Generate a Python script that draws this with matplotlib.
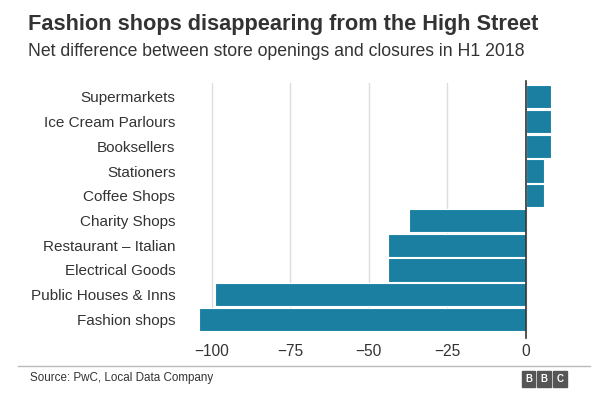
import matplotlib.pyplot as plt
from matplotlib.patches import Rectangle

plt.rcParams['font.family'] = ['Liberation Sans', 'DejaVu Sans']

categories = ['Supermarkets', 'Ice Cream Parlours', 'Booksellers', 'Stationers',
              'Coffee Shops', 'Charity Shops', 'Restaurant \u2013 Italian',
              'Electrical Goods', 'Public Houses & Inns', 'Fashion shops']
values = [8, 8, 8, 6, 6, -37, -44, -44, -99, -104]
ticks = [-100, -75, -50, -25, 0]
tick_labels = ['\u2212100', '\u221275', '\u221250', '\u221225', '0']

fig = plt.figure(figsize=(6.05, 3.96), dpi=100)
ax = fig.add_axes([0.306, 0.162, 0.611, 0.628])

pos = list(range(len(categories)))[::-1]
ax.barh(pos, values, height=0.94, color='#1a7fa0', edgecolor='white', linewidth=0.8, zorder=3)

ax.set_xlim(-108.5, 9.3)
ax.set_ylim(-0.5, 9.55)
ax.set_xticks(ticks)
ax.set_xticklabels(tick_labels, fontsize=11.2, color='#333333')
ax.set_yticks(pos)
ax.set_yticklabels(categories, fontsize=11, color='#333333')
ax.tick_params(axis='x', length=0, pad=9)
ax.tick_params(axis='y', length=0, pad=7)
ax.grid(axis='x', color='#dddddd', linewidth=1, zorder=0)
for s in ax.spines.values():
    s.set_visible(False)
ax.axvline(0, color='#333333', linewidth=1.2, ymin=-0.025, ymax=1.01, clip_on=False, zorder=4)

fig.text(0.046, 0.938, 'Fashion shops disappearing from the High Street',
         fontsize=15.7, fontweight='bold', color='#333333', va='center')
fig.text(0.046, 0.87, 'Net difference between store openings and closures in H1 2018',
         fontsize=12.7, color='#333333', va='center')

fig.add_artist(plt.Line2D([0.03, 0.975], [0.075, 0.075], color='#bbbbbb', linewidth=1))
fig.text(0.05, 0.045, 'Source: PwC, Local Data Company', fontsize=8.4, color='#333333', va='center')

# BBC logo blocks
for i, ch in enumerate('BBC'):
    x0 = 0.862 + i * 0.026
    fig.add_artist(Rectangle((x0, 0.022), 0.023, 0.042, color='#555555', transform=fig.transFigure))
    fig.text(x0 + 0.0115, 0.043, ch, fontsize=7, fontweight='bold', color='white',
             ha='center', va='center')

fig.savefig('out.png', dpi=100)
